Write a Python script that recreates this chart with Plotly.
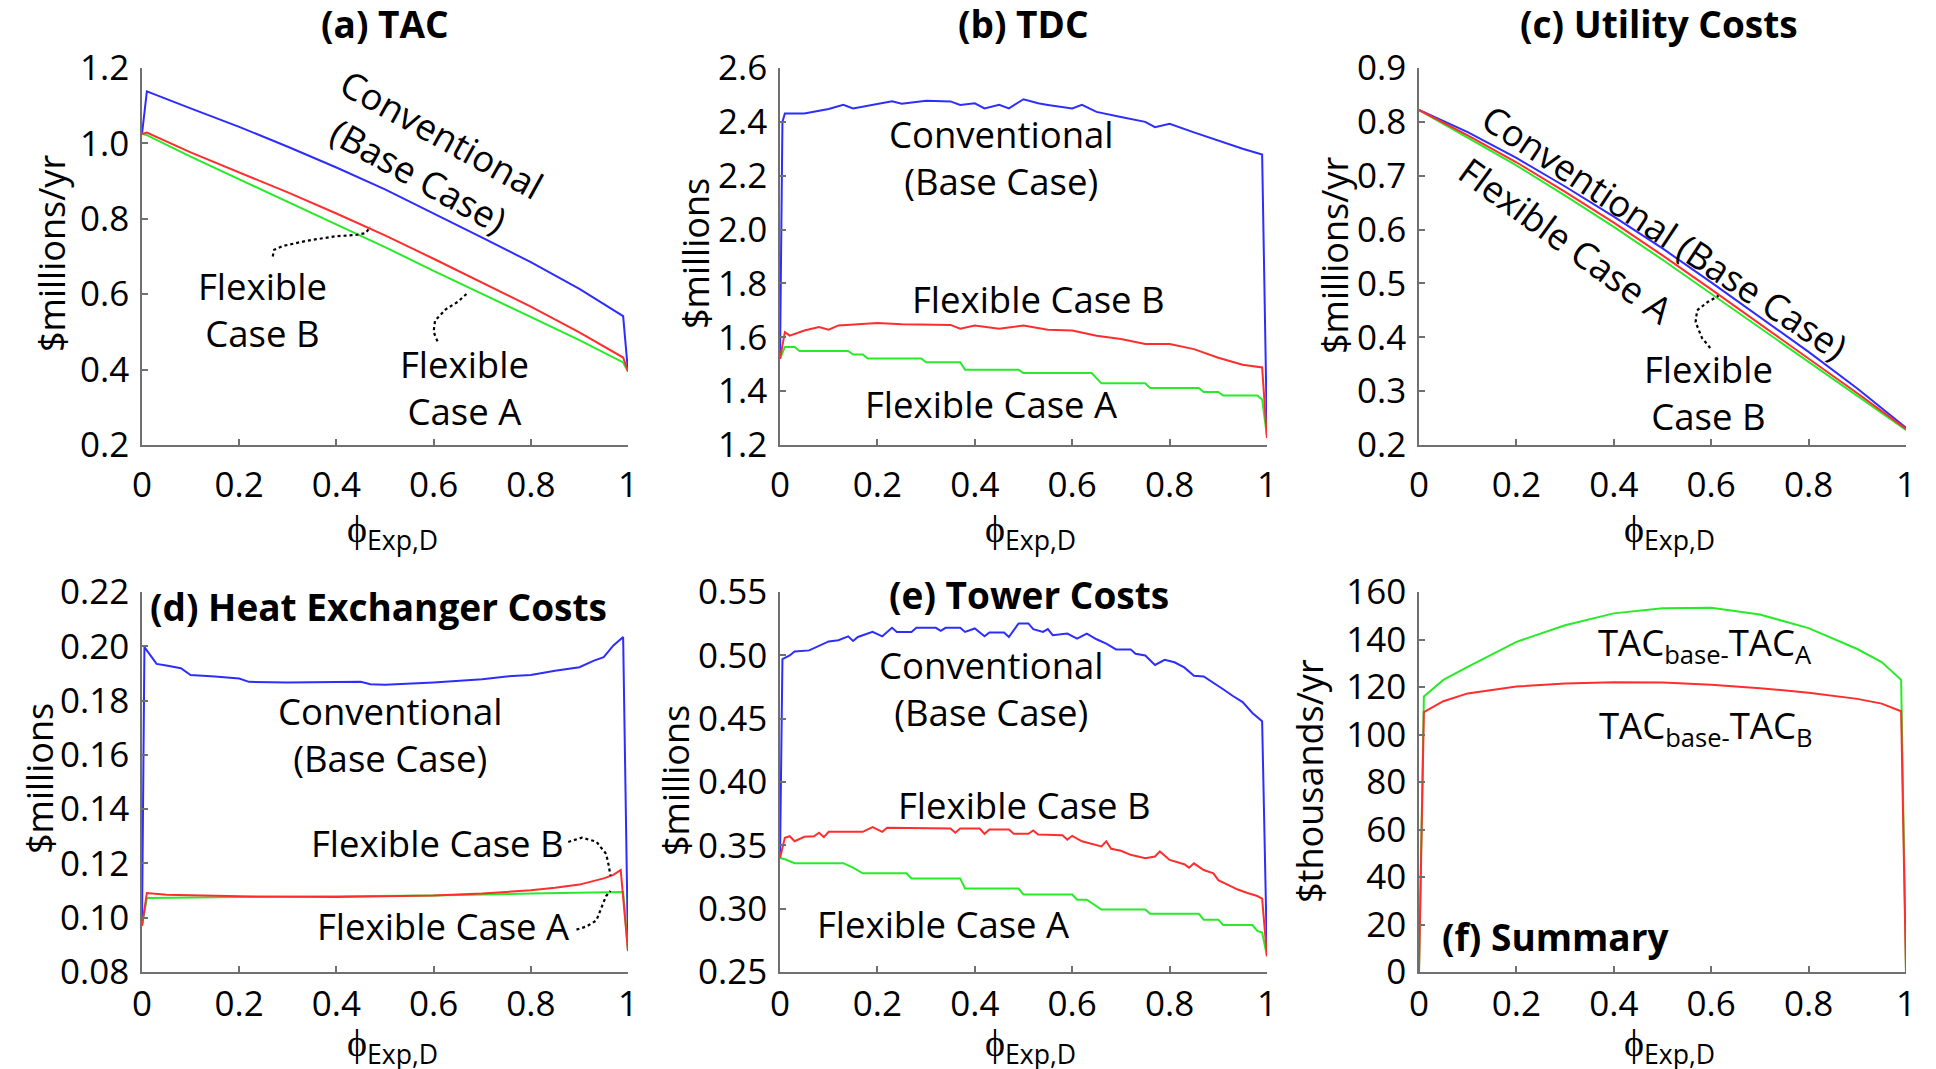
import plotly.graph_objects as go

# ---------------- data ----------------
x_ticks = [0, 0.2, 0.4, 0.6, 0.8, 1]

# (a) TAC, $millions/yr
x_tac = [0, 0.01, 0.1, 0.2, 0.3, 0.4, 0.5, 0.6, 0.7, 0.8, 0.9, 0.99, 1.0]
tac_base = [1.025, 1.138, 1.093, 1.044, 0.991, 0.936, 0.878, 0.815, 0.750, 0.685, 0.614, 0.542, 0.395]
tac_B = [1.025, 1.029, 0.976, 0.924, 0.870, 0.814, 0.756, 0.694, 0.631, 0.567, 0.499, 0.432, 0.395]
tac_A = [1.025, 1.022, 0.965, 0.905, 0.845, 0.785, 0.725, 0.662, 0.600, 0.540, 0.478, 0.419, 0.395]

# (b) TDC, $millions
x_tdc_base = [0, 0.005, 0.01, 0.05, 0.1, 0.13, 0.15, 0.2, 0.23, 0.25, 0.3, 0.35, 0.37, 0.4, 0.42,
              0.45, 0.47, 0.5, 0.53, 0.55, 0.6, 0.62, 0.65, 0.7, 0.75, 0.77, 0.8, 0.85, 0.9, 0.95, 0.99, 1.0]
tdc_base = [1.52, 2.40, 2.431, 2.431, 2.448, 2.463, 2.45, 2.467, 2.476, 2.467, 2.478, 2.476, 2.463, 2.469, 2.45,
            2.463, 2.45, 2.484, 2.469, 2.463, 2.45, 2.463, 2.437, 2.418, 2.40, 2.38, 2.393, 2.361, 2.33, 2.30, 2.279, 1.232]
x_tdc_B = [0, 0.01, 0.02, 0.05, 0.08, 0.1, 0.12, 0.2, 0.25, 0.3, 0.35, 0.37, 0.4, 0.45, 0.5, 0.55,
           0.6, 0.65, 0.7, 0.75, 0.8, 0.85, 0.9, 0.95, 0.99, 1.0]
tdc_B = [1.52, 1.619, 1.606, 1.625, 1.638, 1.628, 1.644, 1.653, 1.648, 1.648, 1.646, 1.632, 1.644, 1.632, 1.644, 1.628,
         1.625, 1.606, 1.594, 1.575, 1.575, 1.556, 1.524, 1.498, 1.488, 1.226]
x_tdc_A = [0, 0.01, 0.03, 0.04, 0.14, 0.15, 0.17, 0.18, 0.29, 0.3, 0.37, 0.38, 0.49, 0.5, 0.64, 0.65,
           0.66, 0.75, 0.76, 0.86, 0.87, 0.9, 0.91, 0.98, 0.99, 1.0]
tdc_A = [1.52, 1.564, 1.564, 1.549, 1.549, 1.536, 1.536, 1.521, 1.521, 1.507, 1.507, 1.479, 1.479, 1.467, 1.467, 1.448,
         1.429, 1.429, 1.412, 1.412, 1.397, 1.397, 1.384, 1.384, 1.369, 1.232]

# (c) Utility costs, $millions/yr
x_util = [0, 0.1, 0.2, 0.3, 0.4, 0.5, 0.6, 0.7, 0.8, 0.9, 1.0]
util_base = [0.822, 0.781, 0.733, 0.680, 0.624, 0.565, 0.502, 0.438, 0.373, 0.305, 0.232]
util_B = [0.822, 0.775, 0.725, 0.670, 0.613, 0.552, 0.489, 0.425, 0.361, 0.296, 0.230]
util_A = [0.822, 0.771, 0.719, 0.663, 0.605, 0.544, 0.481, 0.418, 0.355, 0.291, 0.228]

# (d) Heat exchanger costs, $millions
x_hx_base = [0, 0.005, 0.02, 0.03, 0.05, 0.08, 0.1, 0.15, 0.2, 0.22, 0.3, 0.4, 0.45, 0.47, 0.5, 0.6,
             0.7, 0.75, 0.8, 0.85, 0.9, 0.93, 0.95, 0.97, 0.99, 1.0]
hx_base = [0.097, 0.1997, 0.196, 0.1935, 0.1929, 0.1919, 0.1894, 0.1889, 0.1881, 0.1869, 0.1867, 0.1869, 0.1869,
           0.186, 0.1858, 0.1867, 0.1879, 0.1889, 0.1894, 0.191, 0.1923, 0.1947, 0.196, 0.2003, 0.2034, 0.0877]
x_hx_B = [0, 0.01, 0.05, 0.2, 0.4, 0.5, 0.6, 0.7, 0.8, 0.85, 0.9, 0.95, 0.97, 0.985, 1.0]
hx_B = [0.097, 0.1091, 0.1085, 0.1079, 0.1076, 0.1079, 0.1082, 0.1089, 0.1101, 0.111, 0.1122, 0.1145, 0.1158, 0.1176, 0.0877]
x_hx_A = [0, 0.01, 0.2, 0.4, 0.6, 0.8, 0.9, 0.99, 1.0]
hx_A = [0.097, 0.1073, 0.1076, 0.1079, 0.1082, 0.1089, 0.1091, 0.1095, 0.0877]

# (e) Tower costs, $millions
x_tow_base = [0, 0.005, 0.02, 0.03, 0.06, 0.08, 0.1, 0.12, 0.14, 0.15, 0.16, 0.19, 0.21, 0.23, 0.24, 0.27,
              0.28, 0.32, 0.33, 0.34, 0.37, 0.38, 0.4, 0.42, 0.43, 0.46, 0.47, 0.49, 0.51, 0.52, 0.54, 0.55,
              0.56, 0.59, 0.61, 0.63, 0.65, 0.67, 0.69, 0.72, 0.73, 0.75, 0.77, 0.79, 0.81, 0.83, 0.85, 0.87,
              0.89, 0.91, 0.93, 0.95, 0.97, 0.99, 1.0]
tow_base = [0.340, 0.497, 0.4999, 0.503, 0.5039, 0.5073, 0.511, 0.5119, 0.515, 0.5113, 0.5145, 0.5185, 0.515, 0.5217,
            0.5185, 0.5185, 0.5217, 0.5217, 0.5193, 0.5217, 0.5217, 0.5185, 0.5212, 0.515, 0.518, 0.518, 0.5145,
            0.5252, 0.5252, 0.5207, 0.5185, 0.5207, 0.5159, 0.5172, 0.5132, 0.5172, 0.5127, 0.5092, 0.5047, 0.5047,
            0.5012, 0.4999, 0.4924, 0.4964, 0.4945, 0.4905, 0.4839, 0.4833, 0.4785, 0.4732, 0.4679, 0.4631, 0.4545,
            0.4479, 0.2625]
x_tow_B = [0, 0.01, 0.02, 0.03, 0.05, 0.07, 0.08, 0.09, 0.1, 0.17, 0.19, 0.21, 0.22, 0.35, 0.36, 0.37, 0.41,
           0.42, 0.43, 0.47, 0.48, 0.51, 0.52, 0.53, 0.58, 0.59, 0.6, 0.62, 0.66, 0.67, 0.68, 0.7, 0.72, 0.75,
           0.77, 0.78, 0.8, 0.83, 0.84, 0.85, 0.87, 0.89, 0.9, 0.92, 0.94, 0.96, 0.98, 0.99, 1.0]
tow_B = [0.340, 0.3559, 0.3572, 0.3532, 0.3567, 0.3572, 0.3599, 0.3565, 0.3607, 0.3607, 0.3644, 0.3607, 0.3639,
         0.3633, 0.3599, 0.3633, 0.3633, 0.3591, 0.3625, 0.3625, 0.3591, 0.3591, 0.3617, 0.3585, 0.358, 0.3545,
         0.3575, 0.3532, 0.3492, 0.3532, 0.3473, 0.3457, 0.3425, 0.3399, 0.3412, 0.3452, 0.3385, 0.3351, 0.3324,
         0.3358, 0.3305, 0.3279, 0.3225, 0.3185, 0.3151, 0.3124, 0.31, 0.3079, 0.2625]
x_tow_A = [0, 0.01, 0.03, 0.13, 0.15, 0.17, 0.26, 0.27, 0.37, 0.38, 0.49, 0.5, 0.6, 0.61, 0.63, 0.66, 0.75,
           0.76, 0.86, 0.87, 0.9, 0.91, 0.97, 0.98, 0.99, 1.0]
tow_A = [0.340, 0.339, 0.3359, 0.3359, 0.3324, 0.3279, 0.3279, 0.3239, 0.3239, 0.3159, 0.3159, 0.3111, 0.3111,
         0.3071, 0.3071, 0.2993, 0.2993, 0.2959, 0.2959, 0.2913, 0.2913, 0.2871, 0.2871, 0.2825, 0.2812, 0.2625]

# (f) Summary, $thousands/yr
x_sum = [0, 0.01, 0.05, 0.1, 0.2, 0.3, 0.4, 0.5, 0.6, 0.7, 0.8, 0.9, 0.95, 0.99, 1.0]
save_A = [0, 116, 123, 128.5, 139, 146, 151, 153.2, 153.4, 150.5, 144.8, 136, 130.5, 123, 0]
save_B = [0, 109.4, 114, 117.3, 120.2, 121.5, 122, 121.9, 120.9, 119.5, 117.6, 115, 113, 109.8, 0]

y_ranges = [[0.2, 1.2], [1.2, 2.6], [0.2, 0.9], [0.08, 0.22], [0.25, 0.55], [0, 160]]
y_dticks = [0.2, 0.2, 0.1, 0.02, 0.05, 20]
y_formats = [".1f", ".1f", ".1f", ".2f", ".2f", "d"]

# ---------------- styling ----------------
# page is 1936x1069; the html body has an 8px margin
OFF = 8
W, H = 1936 - 2 * OFF, 1069 - OFF
FONT = "Open Sans"
BLUE = "rgb(45,45,255)"
RED = "rgb(255,45,45)"
GREEN = "rgb(40,235,40)"
AX = "#707070"

cols = [(142, 628), (780, 1267), (1419, 1906)]   # page pixels
rows = [(68, 445), (592, 972)]


def px(x):
    return (x - OFF) / W


def py(y):
    return 1 - (y - OFF) / H


fig = go.Figure()

panels = [
    [(x_tac, tac_base, BLUE), (x_tac, tac_A, GREEN), (x_tac, tac_B, RED)],
    [(x_tdc_base, tdc_base, BLUE), (x_tdc_A, tdc_A, GREEN), (x_tdc_B, tdc_B, RED)],
    [(x_util, util_base, BLUE), (x_util, util_A, GREEN), (x_util, util_B, RED)],
    [(x_hx_base, hx_base, BLUE), (x_hx_A, hx_A, GREEN), (x_hx_B, hx_B, RED)],
    [(x_tow_base, tow_base, BLUE), (x_tow_A, tow_A, GREEN), (x_tow_B, tow_B, RED)],
    [(x_sum, save_A, GREEN), (x_sum, save_B, RED)],
]

layout = dict(
    template="none",
    width=W, height=H, margin=dict(l=0, r=0, t=0, b=0, pad=0, autoexpand=False),
    paper_bgcolor="white", plot_bgcolor="white", showlegend=False,
    font=dict(family=FONT, size=35, color="black"),
)

for i, series in enumerate(panels):
    n = i + 1
    xa = "x" if n == 1 else f"x{n}"
    ya = "y" if n == 1 else f"y{n}"
    for xs, ys, c in series:
        fig.add_trace(go.Scatter(x=xs, y=ys, mode="lines", line=dict(color=c, width=2),
                                 xaxis=xa, yaxis=ya, hoverinfo="skip"))
    r, cidx = divmod(i, 3)
    c0, c1 = cols[cidx]
    r0, r1 = rows[r]
    common = dict(showline=True, linecolor=AX, linewidth=1.5, ticks="inside", ticklen=6,
                  tickwidth=1.5, tickcolor=AX, showgrid=False, zeroline=False, automargin=False,
                  mirror=False, tickfont=dict(family=FONT, size=35, color="black"))
    layout["xaxis" if n == 1 else f"xaxis{n}"] = dict(
        domain=[px(c0), px(c1)], anchor=ya, range=[0, 1], tickvals=x_ticks,
        ticklabelstandoff=8 if r == 0 else 0, **common)
    layout["yaxis" if n == 1 else f"yaxis{n}"] = dict(
        domain=[py(r1), py(r0)], anchor=xa, range=y_ranges[i], dtick=y_dticks[i],
        tick0=y_ranges[i][0], tickformat=y_formats[i], ticklabelstandoff=4, **common)

fig.update_layout(**layout)

ann = []
LBL = 36.5


def add_text(text, X, Y, size=LBL, bold=False, angle=0):
    t = f"<b>{text}</b>" if bold else text
    ann.append(dict(text=t, x=px(X), y=py(Y), xref="paper", yref="paper", showarrow=False,
                    xanchor="center", yanchor="middle", textangle=angle,
                    font=dict(family=FONT, size=size, color="black")))


# panel titles
add_text("(a) TAC", 385, 23, 37, True)
add_text("(b) TDC", 1023, 23, 37, True)
add_text("(c) Utility Costs", 1659, 23, 37, True)
add_text("(d) Heat Exchanger Costs", 378, 606, 37, True)
add_text("(e) Tower Costs", 1029, 594, 37, True)
add_text("(f) Summary", 1556, 936, 37, True)

# y-axis titles
add_text("$millions/yr", 52, 254, 36, angle=-90)
add_text("$millions", 696, 254, 36, angle=-90)
add_text("$millions/yr", 1334, 256, 36, angle=-90)
add_text("$millions", 39, 779, 36, angle=-90)
add_text("$millions", 675, 781, 36, angle=-90)
add_text("$thousands/yr", 1309, 781, 36, angle=-90)

# x-axis titles
for cidx, (c0, c1) in enumerate(cols):
    add_text("ϕ<sub>Exp,D</sub>", (c0 + c1) / 2 + 7, 529, 38)
    add_text("ϕ<sub>Exp,D</sub>", (c0 + c1) / 2 + 7, 1043, 38)

# curve labels
add_text("Conventional<br>(Base Case)", 430, 155, angle=29)
add_text("Flexible<br>Case B", 262, 309)
add_text("Flexible<br>Case A", 464, 388)

add_text("Conventional<br>(Base Case)", 1001, 157)
add_text("Flexible Case B", 1038, 299)
add_text("Flexible Case A", 992, 404)

add_text("Conventional (Base Case)", 1665, 232, angle=33.5)
add_text("Flexible Case A", 1566, 240, angle=36)
add_text("Flexible<br>Case B", 1708, 392)

add_text("Conventional<br>(Base Case)", 390, 734)
add_text("Flexible Case B", 437, 843)
add_text("Flexible Case A", 443, 926)

add_text("Conventional<br>(Base Case)", 992, 688)
add_text("Flexible Case B", 1024, 805)
add_text("Flexible Case A", 943, 924)

add_text("TAC<sub>base-</sub>TAC<sub>A</sub>", 1705, 644)
add_text("TAC<sub>base-</sub>TAC<sub>B</sub>", 1705, 727)

fig.update_layout(annotations=ann)

# dotted leader lines (annotation decorations)
leaders = [
    ("x", "y", [(0.269, 0.700), (0.272, 0.718), (0.29, 0.728), (0.34, 0.742), (0.40, 0.754),
                (0.44, 0.757), (0.46, 0.762), (0.47, 0.779)]),
    ("x", "y", [(0.608, 0.475), (0.600, 0.500), (0.603, 0.530), (0.625, 0.560), (0.650, 0.580),
                (0.669, 0.602)]),
    ("x3", "y3", [(0.598, 0.380), (0.581, 0.399), (0.568, 0.428), (0.571, 0.450), (0.592, 0.465),
                  (0.615, 0.477)]),
    ("x4", "y4", [(0.877, 0.1279), (0.905, 0.1295), (0.935, 0.1280), (0.955, 0.1235), (0.960, 0.1195),
                  (0.964, 0.1155)]),
    ("x4", "y4", [(0.894, 0.0956), (0.915, 0.0968), (0.935, 0.0990), (0.946, 0.1040), (0.955, 0.1080),
                  (0.964, 0.1099)]),
]
for xr, yr, pts in leaders:
    path = "M " + " L ".join(f"{a},{b}" for a, b in pts)
    fig.add_shape(type="path", path=path, xref=xr, yref=yr,
                  line=dict(color="black", width=2.2, dash="dot"))

fig.write_html("out.html")
